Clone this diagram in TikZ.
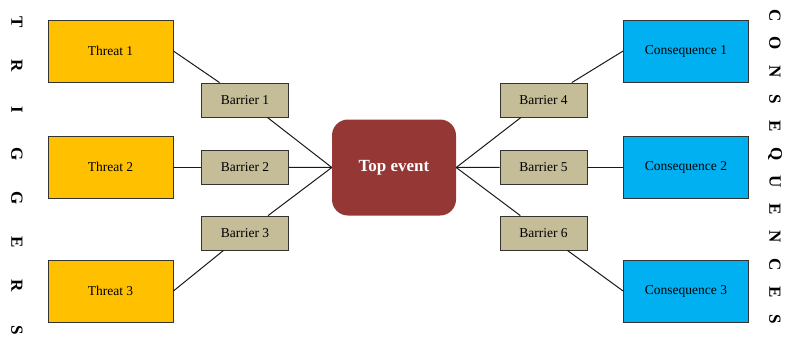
\documentclass[tikz,border=0pt]{standalone}
\usepackage{fontspec}
\setmainfont{Liberation Serif}
\begin{document}
\begin{tikzpicture}[x=1pt,y=-1pt,
  box/.style={draw=black!80, line width=0.8pt, minimum width=125pt, minimum height=62pt, inner sep=0pt, font=\fontsize{13.5}{15}\selectfont},
  threat/.style={box, fill={rgb,255:red,255;green,192;blue,0}},
  cons/.style={box, fill={rgb,255:red,0;green,176;blue,240}},
  barrier/.style={draw=black!80, line width=0.8pt, fill={rgb,255:red,196;green,189;blue,151}, minimum width=87pt, minimum height=34pt, inner sep=0pt, font=\fontsize{13.5}{15}\selectfont},
  topev/.style={fill={rgb,255:red,149;green,55;blue,53}, rounded corners=16pt, minimum width=124pt, minimum height=96pt, text=white, font=\fontsize{17}{19}\selectfont\bfseries},
  link/.style={line width=1pt, black!90},
  sideletter/.style={rotate=-90, font=\fontsize{17}{19}\selectfont\bfseries, inner sep=0pt}
]
\useasboundingbox (0,0) rectangle (787,351);

% threats
\node[threat] (t1) at (110.5,51) {Threat 1};
\node[threat] (t2) at (110.5,167) {Threat 2};
\node[threat] (t3) at (110.5,291) {Threat 3};

% consequences
\node[cons] (c1) at (686,51) {Consequence 1};
\node[cons] (c2) at (686,167) {Consequence 2};
\node[cons] (c3) at (686,291) {Consequence 3};

% barriers
\node[barrier] (b1) at (245,100) {Barrier 1};
\node[barrier] (b2) at (245,167) {Barrier 2};
\node[barrier] (b3) at (245,233) {Barrier 3};
\node[barrier] (b4) at (543.5,100) {Barrier 4};
\node[barrier] (b5) at (543.5,167) {Barrier 5};
\node[barrier] (b6) at (543.5,233) {Barrier 6};

% central event
\node[topev] (top) at (394,167.5) {Top event};

% left side paths
\draw[link] (t1.east) -- (b1);
\draw[link] (t2.east) -- (b2);
\draw[link] (t3.east) -- (b3);
\draw[link] (b1) -- (top.west);
\draw[link] (b2) -- (top.west);
\draw[link] (b3) -- (top.west);

% right side paths
\draw[link] (c1.west) -- (b4);
\draw[link] (c2.west) -- (b5);
\draw[link] (c3.west) -- (b6);
\draw[link] (b4) -- (top.east);
\draw[link] (b5) -- (top.east);
\draw[link] (b6) -- (top.east);

% vertical side captions
\foreach \ch [count=\i from 0] in {T,R,I,G,G,E,R,S}
  \node[sideletter] (trig\i) at (17, 22+44*\i) {\ch};
\foreach \ch [count=\i from 0] in {C,O,N,S,E,Q,U,E,N,C,E,S}
  \node[sideletter] (cons\i) at (775, 16+27.6*\i) {\ch};
\end{tikzpicture}
\end{document}
